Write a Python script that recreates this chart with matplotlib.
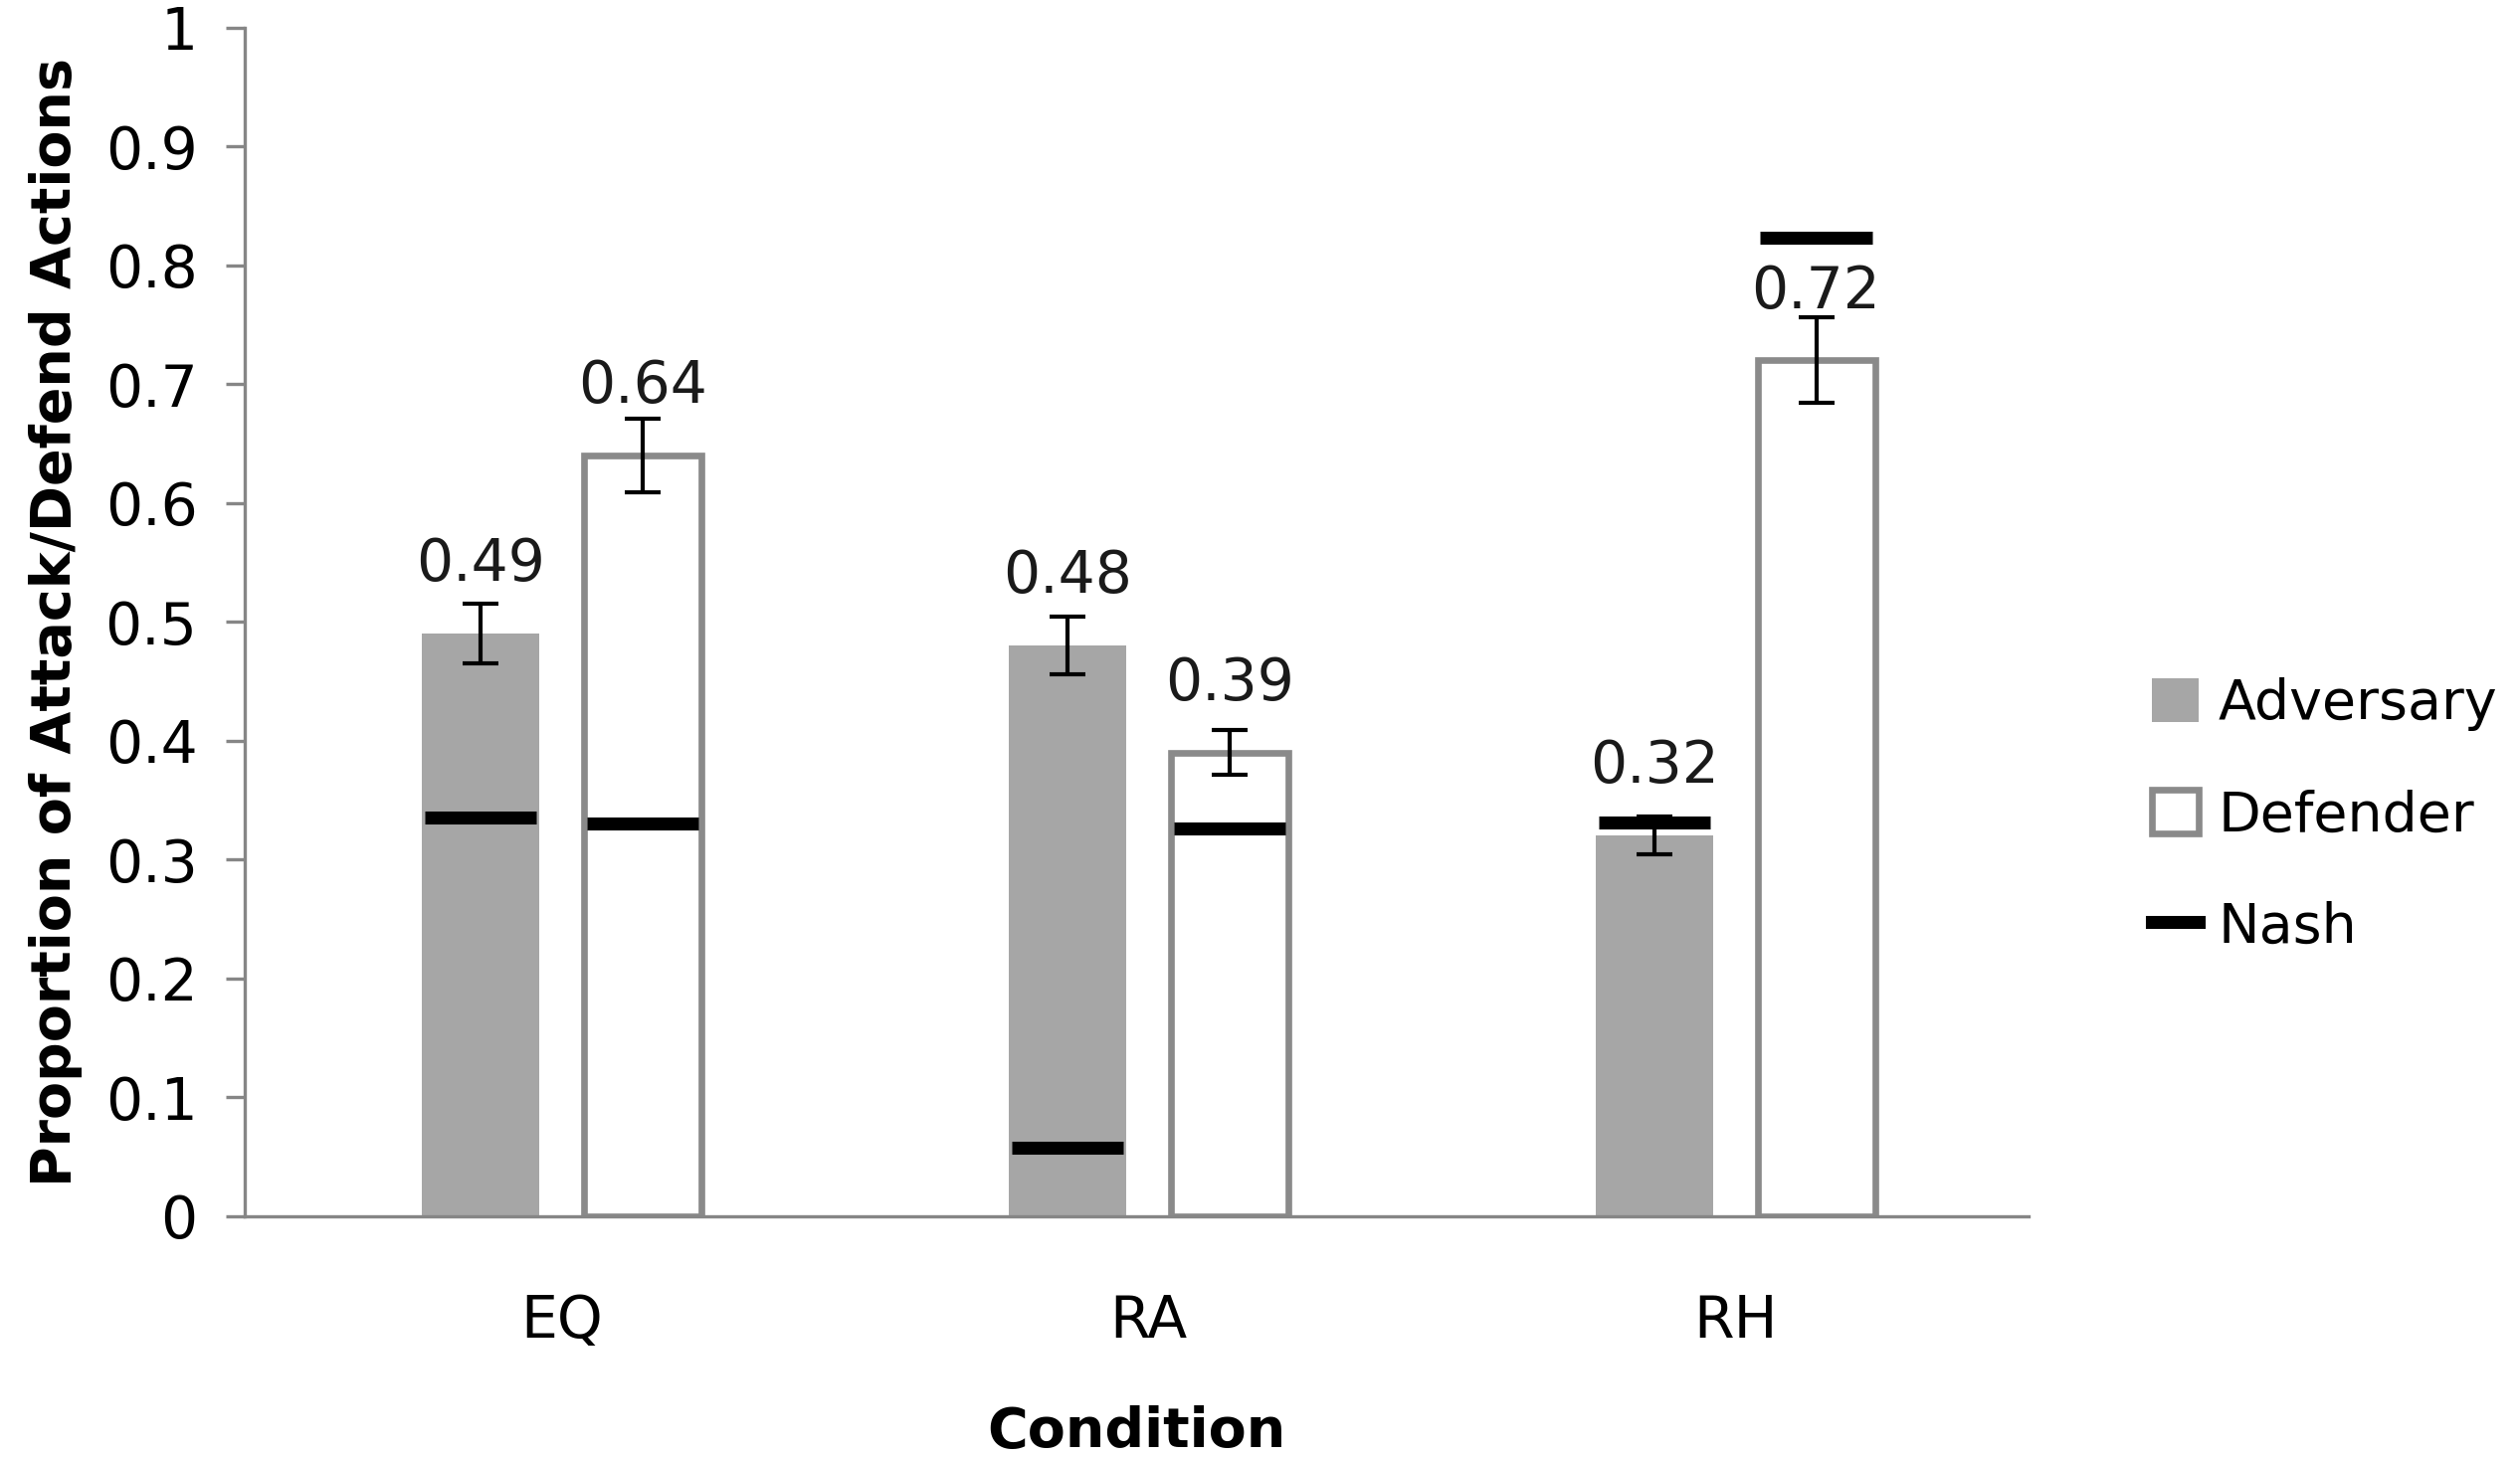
import numpy as np
import matplotlib.pyplot as plt
from matplotlib.patches import Patch
from matplotlib.lines import Line2D

conditions = ["EQ", "RA", "RH"]
adversary = [0.49, 0.48, 0.32]
defender = [0.64, 0.39, 0.72]
adversary_err = [0.025, 0.024, 0.016]
defender_err = [0.031, 0.019, 0.036]
nash_adversary = [0.335, 0.057, 0.331]
nash_defender = [0.330, 0.326, 0.823]

plt.rcParams["font.family"] = "DejaVu Sans"

fig, ax = plt.subplots(figsize=(12.665, 7.325), dpi=200)
fig.subplots_adjust(left=0.097, right=0.805, bottom=0.1655, top=0.981)

x = np.arange(len(conditions))
w = 0.2
off = 0.138

ax.bar(x - off, adversary, w, color="#a6a6a6", zorder=2)
ax.bar(x + off, defender, w, color="white", edgecolor="#8a8a8a", linewidth=2.4, zorder=2)

ax.errorbar(x - off, adversary, yerr=adversary_err, fmt="none", ecolor="black",
            elinewidth=1.5, capsize=6.5, capthick=1.5, zorder=3)
ax.errorbar(x + off, defender, yerr=defender_err, fmt="none", ecolor="black",
            elinewidth=1.5, capsize=6.5, capthick=1.5, zorder=3)

# nash lines
ax.hlines(nash_adversary, x - off - 0.095, x - off + 0.095, color="black", lw=4.7, zorder=4)
ax.hlines(nash_defender, x + off - 0.095, x + off + 0.095, color="black", lw=4.7, zorder=4)

# value labels
for xi, v in zip(x - off, adversary):
    ax.text(xi, v + 0.058, f"{v:.2f}", ha="center", va="center", fontsize=21, color="#1a1a1a")
for xi, v in zip(x + off, defender):
    ax.text(xi, v + 0.058, f"{v:.2f}", ha="center", va="center", fontsize=21, color="#1a1a1a")

ax.set_xlim(-0.54, 2.5)
ax.set_ylim(0, 1)
ax.set_yticks(np.arange(0, 1.01, 0.1))
ax.set_yticklabels(["0"] + [f"{t:.1f}" for t in np.arange(0.1, 0.95, 0.1)] + ["1"])
ax.set_xticks(x)
ax.set_xticklabels(conditions)

for s in ["top", "right"]:
    ax.spines[s].set_visible(False)
for s in ["left", "bottom"]:
    ax.spines[s].set_color("#868686")
    ax.spines[s].set_linewidth(1.2)

ax.tick_params(axis="y", length=7, width=1.2, color="#868686", pad=10, labelsize=21)
ax.tick_params(axis="x", length=0, pad=28, labelsize=21)

ax.set_ylabel("Proportion of Attack/Defend Actions", fontsize=20, fontweight="bold", labelpad=8)
ax.set_xlabel("Condition", fontsize=20, fontweight="bold", labelpad=20)

handles = [
    Patch(facecolor="#a6a6a6", edgecolor="none"),
    Patch(facecolor="white", edgecolor="#8a8a8a", linewidth=2.4),
    Line2D([0], [0], color="black", lw=4.7),
]
fig.legend(handles, ["Adversary", "Defender", "Nash"], loc="center left",
           bbox_to_anchor=(0.834, 0.44), frameon=False, fontsize=20,
           handlelength=0.85, handleheight=0.85, handletextpad=0.35, labelspacing=1.05)

fig.savefig("out.png", dpi=200)
